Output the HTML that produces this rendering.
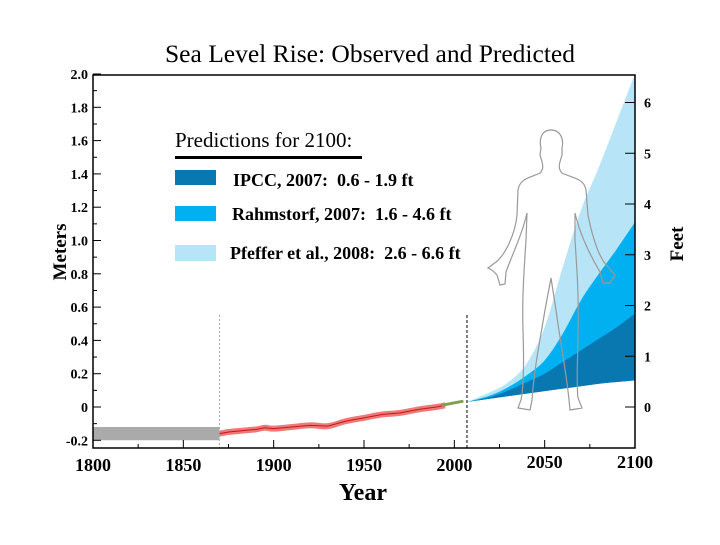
<!DOCTYPE html>
<html><head><meta charset="utf-8"><style>
body{margin:0;background:#fff}
svg text{font-family:"Liberation Serif",serif;font-weight:bold;fill:#000;white-space:pre}
</style></head><body>
<svg id="c" width="720" height="540" viewBox="0 0 720 540">
<text x="370" y="62" text-anchor="middle" font-size="25.5" style="font-weight:normal">Sea Level Rise: Observed and Predicted</text>
<g id="marks"></g>
<g id="axes"></g>
<path d="M551,130 C541,130 539,140 541,148 L540,155 C542,162 545,168 540,173 C530,178 520,178 518,190 L517,215 C515,235 505,255 496,262 L488,268 C493,270 495,273 497,275 L500,285 L505,284 L506,272 C512,255 522,235 527,213 L526,240 C524,270 522,300 523,330 C524,360 524,385 521,400 L518,408 L530,410 L532,400 C534,370 540,340 545,310 L551,278 L556,310 C560,340 566,370 569,400 L570,410 L582,408 L578,398 C576,380 578,360 578,330 C579,300 577,270 575,240 L575,213 C580,235 590,255 600,272 L603,283 L610,283 L615,275 L609,268 C600,260 593,240 588,215 L586,190 C584,178 572,178 562,173 C557,168 560,162 562,155 L562,148 C564,140 561,130 551,130 Z" fill="none" stroke="#999" stroke-width="1.2"/>
<g>
<text x="175" y="147" font-size="21" style="font-weight:normal">Predictions for 2100:</text>
<rect x="175" y="156" width="187" height="3" fill="#000"/>
<rect x="175" y="170" width="41" height="15" fill="#0a78b0"/>
<text x="233" y="186" font-size="18">IPCC, 2007:  0.6 - 1.9 ft</text>
<rect x="175" y="206" width="41" height="15" fill="#00b0f0"/>
<text x="232" y="220" font-size="18">Rahmstorf, 2007:  1.6 - 4.6 ft</text>
<rect x="175" y="245" width="41" height="16" fill="#b8e4f8"/>
<text x="230" y="259" font-size="18">Pfeffer et al., 2008:  2.6 - 6.6 ft</text>
</g>
</svg>
<script>
const predYears=[2007,2020,2030,2040,2050,2060,2070,2080,2090,2100];
const predLower=[0.03,0.05,0.065,0.08,0.095,0.11,0.125,0.14,0.15,0.16];
const predIPCC=[0.03,0.06,0.10,0.15,0.20,0.27,0.34,0.41,0.48,0.56];
const predRahm=[0.03,0.07,0.12,0.19,0.28,0.44,0.64,0.80,0.95,1.11];
const predPfeffer=[0.03,0.09,0.15,0.26,0.48,0.84,1.18,1.44,1.72,2.0];
const obsYears=[1870,1875,1880,1885,1890,1895,1900,1910,1920,1930,1940,1950,1960,1970,1980,1990,1995];
const obsValues=[-0.16,-0.15,-0.145,-0.14,-0.135,-0.125,-0.13,-0.12,-0.11,-0.115,-0.085,-0.065,-0.045,-0.035,-0.015,0.0,0.01];
const satYears=[1993,2000,2005];
const satValues=[0.01,0.025,0.035];
const grayYears=[1800,1870];
const grayLow=[-0.2,-0.2];
const grayHigh=[-0.12,-0.12];
const meterTicks=[-0.2,0,0.2,0.4,0.6,0.8,1.0,1.2,1.4,1.6,1.8,2.0];
const meterLabels=["-0.2","0","0.2","0.4","0.6","0.8","1.0","1.2","1.4","1.6","1.8","2.0"];
const feetTicks=[0,1,2,3,4,5,6];
const yearTicks=[1800,1850,1900,1950,2000,2050,2100];

const L=93,R=635,T=75,B=448;
const x=y=>L+(y-1800)*(R-L)/300;
const ym=m=>407-m*166.5;
const NS="http://www.w3.org/2000/svg";
const marks=document.getElementById('marks'),axes=document.getElementById('axes');
function mk(tag,attrs,parent){const e=document.createElementNS(NS,tag);for(const k in attrs)e.setAttribute(k,attrs[k]);parent.appendChild(e);return e;}
function smooth(pts){let d='';for(let i=0;i<pts.length-1;i++){const p0=pts[Math.max(0,i-1)],p1=pts[i],p2=pts[i+1],p3=pts[Math.min(pts.length-1,i+2)];
 const c1=[p1[0]+(p2[0]-p0[0])/6,p1[1]+(p2[1]-p0[1])/6],c2=[p2[0]-(p3[0]-p1[0])/6,p2[1]-(p3[1]-p1[1])/6];
 d+=' C'+c1+' '+c2+' '+p2;}return d;}
function band(xs,lo,hi){const top=xs.map((v,i)=>[x(v),ym(hi[i])]);const bot=xs.map((v,i)=>[x(v),ym(lo[i])]).reverse();
 return 'M'+top[0]+smooth(top)+' L'+bot[0]+smooth(bot)+'Z';}

let e=mk('path',{d:band(grayYears,grayLow,grayHigh),fill:'#aaaaaa'},marks);


e=mk('path',{d:band(predYears,predLower,predPfeffer),fill:'#b8e4f8'},marks);


e=mk('path',{d:band(predYears,predLower,predRahm),fill:'#00b0f0'},marks);


e=mk('path',{d:band(predYears,predLower,predIPCC),fill:'#0a78b0'},marks);


e=mk('path',{d:band(obsYears,obsValues.map(v=>v-0.018),obsValues.map(v=>v+0.018)),fill:'#f07878'},marks);


e=mk('polyline',{points:obsYears.map((v,i)=>x(v)+','+ym(obsValues[i])).join(' '),fill:'none',stroke:'#c01818','stroke-width':1},marks);


e=mk('polyline',{points:satYears.map((v,i)=>x(v)+','+ym(satValues[i])).join(' '),fill:'none',stroke:'#80a050','stroke-width':3},marks);


e=mk('line',{x1:x(1870),x2:x(1870),y1:315,y2:B,stroke:'#aaa','stroke-dasharray':'2,2'},marks);


e=mk('line',{x1:x(2007),x2:x(2007),y1:315,y2:B,stroke:'#000','stroke-dasharray':'3,2'},marks);



e=mk('rect',{x:L,y:T,width:R-L,height:B-T,fill:'none',stroke:'#000','stroke-width':1.5},axes);


meterTicks.forEach((m,i)=>{
  mk('line',{x1:L,x2:L+8,y1:ym(m),y2:ym(m),stroke:'#000'},axes);
  if(m<2) mk('line',{x1:L,x2:L+4,y1:ym(m+0.1),y2:ym(m+0.1),stroke:'#000'},axes);
  const t=mk('text',{x:88,y:ym(m)+5,'text-anchor':'end','font-size':14},axes);t.textContent=meterLabels[i];
  
  
});
feetTicks.forEach(f=>{
  const yy=ym(f*0.3048);
  mk('line',{x1:R-10,x2:R,y1:yy,y2:yy,stroke:'#000'},axes);
  const t=mk('text',{x:644,y:yy+5,'font-size':14},axes);t.textContent=f;
  
  
});
yearTicks.forEach(yr=>{
  mk('line',{x1:x(yr),x2:x(yr),y1:B,y2:B-8,stroke:'#000'},axes);
  if(yr<2100) mk('line',{x1:x(yr+25),x2:x(yr+25),y1:B,y2:B-4,stroke:'#000'},axes);
  const t=mk('text',{x:x(yr),y:yr>=2050?468:471,'text-anchor':'middle','font-size':18},axes);t.textContent=yr;
  
  
});
let t=mk('text',{x:363,y:500,'text-anchor':'middle','font-size':24},axes);t.textContent='Year';


t=mk('text',{x:0,y:0,'text-anchor':'middle','font-size':19,transform:'translate(66,252) rotate(-90)'},axes);t.textContent='Meters';


t=mk('text',{x:0,y:0,'text-anchor':'middle','font-size':19,transform:'translate(683,244) rotate(-90)'},axes);t.textContent='Feet';


</script>
</body></html>
